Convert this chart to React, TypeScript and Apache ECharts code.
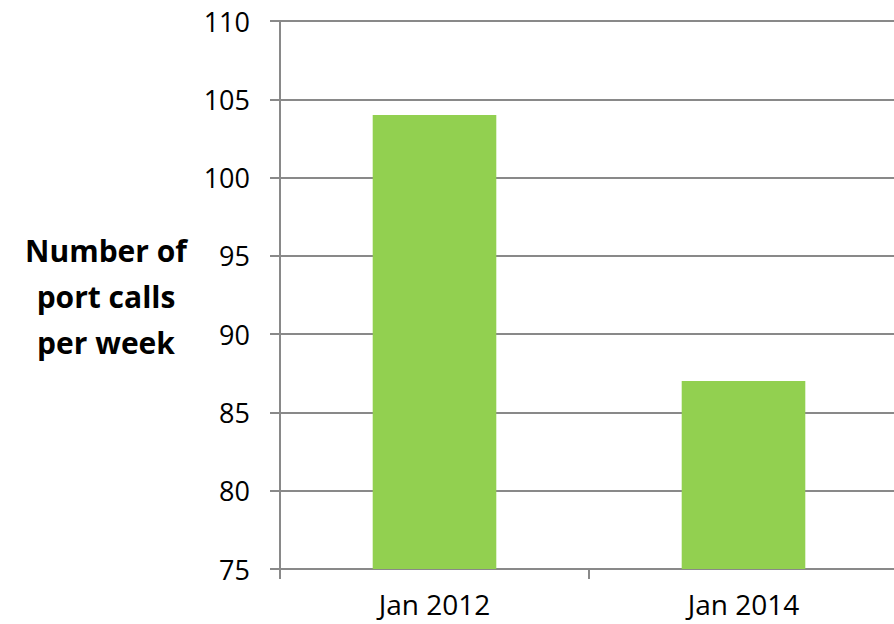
import React, { useEffect, useRef } from "react";
import * as echarts from "echarts";

const categories = ["Jan 2012", "Jan 2014"];
const portCalls = [104, 87];
const yTitleLines = ["Number of", "port calls", "per week"];

const FONT = "'Open Sans', Lato, sans-serif";
const GRID_COLOR = "#898989";

export default function App() {
  const ref = useRef<HTMLDivElement>(null);
  useEffect(() => {
    if (!ref.current) return;
    const chart = echarts.init(ref.current, undefined, { renderer: "svg" });
    chart.setOption({
      animation: false,
      backgroundColor: "#ffffff",
      grid: {
        left: 280,
        top: 21,
        width: 618,
        bottom: 55,
        containLabel: false,
        outerBoundsMode: "none",
      },
      xAxis: {
        type: "category",
        data: categories,
        boundaryGap: true,
        axisLine: { lineStyle: { color: GRID_COLOR, width: 2 } },
        axisTick: { show: true, length: 10, alignWithLabel: false, lineStyle: { color: GRID_COLOR, width: 2 } },
        axisLabel: { color: "#000", fontFamily: FONT, fontSize: 28, margin: 21 },
        splitLine: { show: false },
      },
      yAxis: {
        type: "value",
        min: 75,
        max: 110,
        interval: 5,
        axisLine: { show: true, lineStyle: { color: GRID_COLOR, width: 2 } },
        axisTick: { show: true, length: 10, lineStyle: { color: GRID_COLOR, width: 2 } },
        axisLabel: { color: "#000", fontFamily: FONT, fontSize: 27, margin: 30 },
        splitLine: { show: true, lineStyle: { color: GRID_COLOR, width: 2 } },
      },
      graphic: [
        {
          type: "text",
          x: 106,
          y: 296,
          style: {
            text: yTitleLines.join("\n"),
            fontFamily: FONT,
            fontWeight: "bold",
            fontSize: 30,
            lineHeight: 46,
            fill: "#000",
            align: "center",
            verticalAlign: "middle",
          },
        },
      ],
      series: [
        {
          type: "bar",
          data: portCalls,
          barWidth: "40%",
          itemStyle: { color: "#92d050" },
        },
      ],
    });
    return () => chart.dispose();
  }, []);
  return (
    <div
      ref={ref}
      style={{ position: "absolute", left: 0, top: 0, width: 894, height: 624 }}
    />
  );
}
